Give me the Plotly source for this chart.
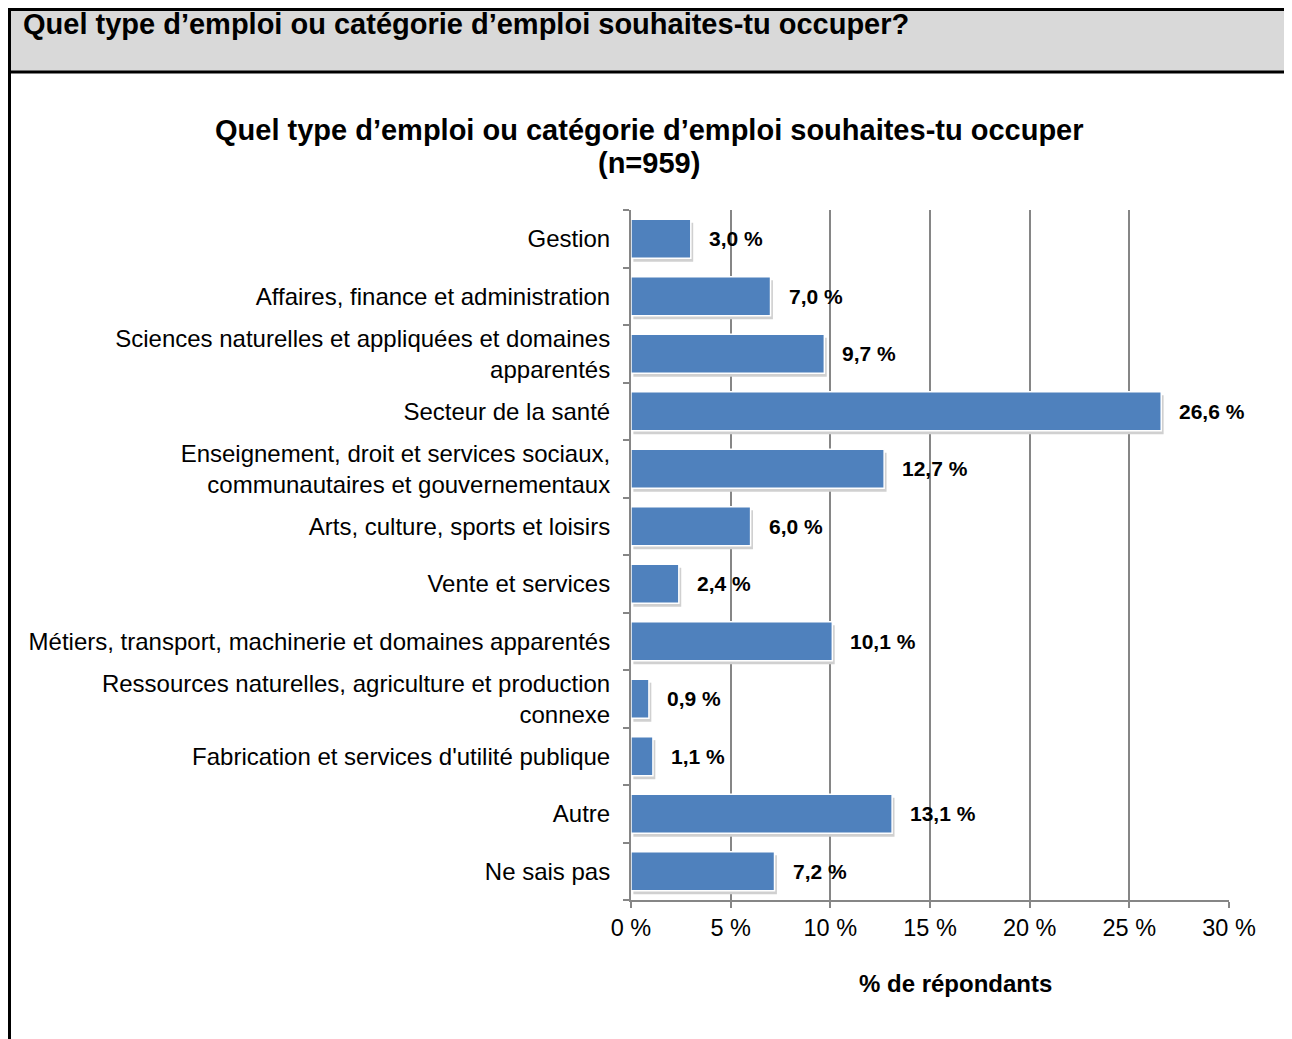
import plotly.graph_objects as go

categories = [
    "Gestion",
    "Affaires, finance et administration",
    "Sciences naturelles et appliquées et domaines<br>apparentés",
    "Secteur de la santé",
    "Enseignement, droit et services sociaux,<br>communautaires et gouvernementaux",
    "Arts, culture, sports et loisirs",
    "Vente et services",
    "Métiers, transport, machinerie et domaines apparentés",
    "Ressources naturelles, agriculture et production<br>connexe",
    "Fabrication et services d'utilité publique",
    "Autre",
    "Ne sais pas",
]
values = [3.0, 7.0, 9.7, 26.6, 12.7, 6.0, 2.4, 10.1, 0.9, 1.1, 13.1, 7.2]
x_ticks = [0, 5, 10, 15, 20, 25, 30]
x_tick_labels = ["0 %", "5 %", "10 %", "15 %", "20 %", "25 %", "30 %"]

OFF = 8  # page body margin
W, H = 1292 - OFF, 1039 - OFF
FONT = "Liberation Sans, Arial, sans-serif"

def px_x(p):
    return (p - OFF) / W

def px_y(p):
    return 1 - (p - OFF) / H

pos = list(range(len(categories)))

fig = go.Figure()
# shadow
fig.add_trace(go.Bar(
    y=[p + 0.06 for p in pos], x=values, base=0.12, orientation="h",
    width=0.68, marker=dict(color="#d0d0d0", line=dict(width=0)),
    hoverinfo="skip", showlegend=False,
))
fig.add_trace(go.Bar(
    y=pos, x=values, orientation="h", width=0.68,
    marker=dict(color="#4f81bd", line=dict(color="white", width=1.5)),
    showlegend=False,
))

for p, v in zip(pos, values):
    fig.add_annotation(
        x=v, y=p, xref="x", yref="y", xanchor="left", yanchor="middle",
        xshift=16, showarrow=False,
        text="<b>" + f"{v:.1f}".replace(".", ",") + " %</b>",
        font=dict(family=FONT, size=21, color="black"),
    )

# header box
fig.add_shape(type="rect", xref="paper", yref="paper",
              x0=px_x(9.5), x1=px_x(1310), y0=px_y(72), y1=px_y(9.5),
              fillcolor="#d9d9d9", line=dict(color="black", width=3), layer="below")
# left border of body
fig.add_shape(type="line", xref="paper", yref="paper",
              x0=px_x(9.5), x1=px_x(9.5), y0=px_y(72), y1=px_y(1050),
              line=dict(color="black", width=3))

fig.add_annotation(
    x=px_x(21), y=px_y(24), xref="paper", yref="paper", xanchor="left", yanchor="middle",
    showarrow=False, text="<b>Quel type d’emploi ou catégorie d’emploi souhaites-tu occuper?</b>",
    font=dict(family=FONT, size=29, color="black"),
)
fig.add_annotation(
    x=px_x(649), y=px_y(130), xref="paper", yref="paper", xanchor="center", yanchor="middle",
    showarrow=False,
    text="<b>Quel type d’emploi ou catégorie d’emploi souhaites-tu occuper</b>",
    font=dict(family=FONT, size=29, color="black"),
)
fig.add_annotation(
    x=px_x(649), y=px_y(163), xref="paper", yref="paper", xanchor="center", yanchor="middle",
    showarrow=False, text="<b>(n=959)</b>",
    font=dict(family=FONT, size=29, color="black"),
)
fig.add_annotation(
    x=px_x(955), y=px_y(983), xref="paper", yref="paper", xanchor="center", yanchor="middle",
    showarrow=False, text="<b>% de répondants</b>",
    font=dict(family=FONT, size=24, color="black"),
)

fig.update_layout(
    width=W, height=H,
    margin=dict(l=0, r=0, t=0, b=0, autoexpand=False),
    paper_bgcolor="white", plot_bgcolor="white",
    xaxis=dict(
        domain=[px_x(631), px_x(1229)], range=[0, 30], automargin=False,
        tickmode="array", tickvals=x_ticks, ticktext=x_tick_labels,
        showgrid=True, gridcolor="#868686", gridwidth=2,
        showline=True, linecolor="#868686", linewidth=2,
        ticks="outside", ticklen=6, tickcolor="#868686", tickwidth=2,
        tickfont=dict(family=FONT, size=23.5, color="black"),
        zeroline=False, fixedrange=True,
    ),
    yaxis=dict(
        domain=[px_y(900), px_y(210)], range=[len(categories) - 0.5, -0.5],
        automargin=False,
        tickmode="array", tickvals=pos, ticktext=categories,
        ticks="", showgrid=False, zeroline=False,
        showline=True, linecolor="#868686", linewidth=2,
        tickfont=dict(family=FONT, size=24, color="black"),
        ticklabelstandoff=14,
        minor=dict(tickmode="array", tickvals=[p - 0.5 for p in pos] + [len(pos) - 0.5],
                   ticks="outside", ticklen=6, tickcolor="#868686", tickwidth=2),
        fixedrange=True,
    ),
)

fig.write_html("out.html")
